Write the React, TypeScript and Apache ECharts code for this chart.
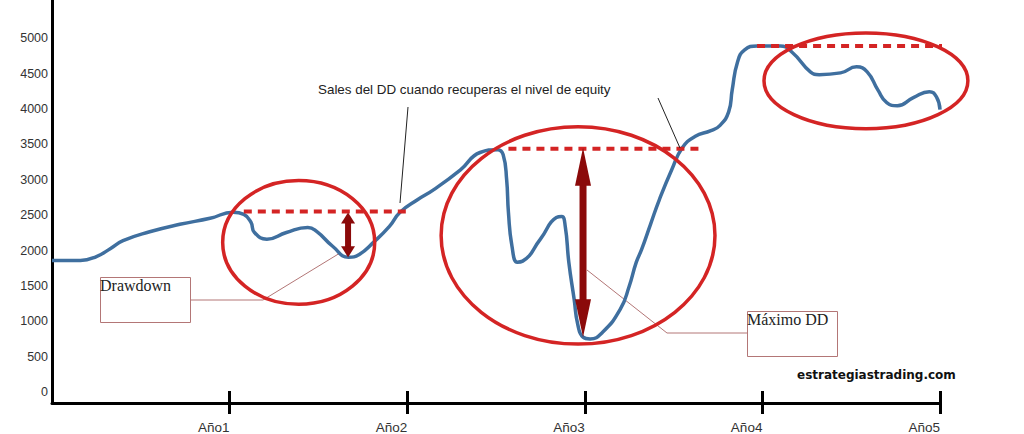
import React, { useEffect, useRef } from "react";
import * as echarts from "echarts";

// Equity curve: year position on the time axis and equity value
const years = [
  0.0, 0.16, 0.25, 0.33, 0.4, 0.55, 0.72, 0.89, 1.02, 1.08, 1.12, 1.14, 1.21, 1.32, 1.44, 1.49,
  1.58, 1.67, 1.73, 1.81, 1.9, 1.96, 2.06, 2.15, 2.3, 2.41, 2.51, 2.54, 2.56, 2.57, 2.59, 2.62,
  2.65, 2.75, 2.84, 2.87, 2.89, 2.91, 2.94, 2.96, 2.99, 3.03, 3.1, 3.2, 3.25, 3.29, 3.32, 3.37,
  3.42, 3.49, 3.55, 3.62, 3.71, 3.76, 3.81, 3.83, 3.86, 3.9, 3.97, 4.1, 4.17, 4.27, 4.32, 4.44,
  4.53, 4.59, 4.65, 4.7, 4.76, 4.85, 4.94, 4.98, 5.0,
];
const equity = [
  1860, 1860, 1915, 2030, 2140, 2265, 2370, 2455, 2540, 2510, 2400, 2255, 2160, 2255, 2325, 2270,
  2060, 1905, 1945, 2115, 2340, 2540, 2720, 2860, 3140, 3385, 3425, 3355, 3000, 2540, 2060, 1835,
  1850, 2160, 2465, 2480, 2340, 1835, 1310, 960, 775, 750, 845, 1170, 1495, 1835, 2015, 2370,
  2720, 3145, 3455, 3610, 3695, 3765, 3960, 4270, 4665, 4835, 4890, 4890, 4795, 4525, 4485, 4510,
  4595, 4525, 4270, 4090, 4045, 4160, 4245, 4170, 3990,
];

// Tick labels
const yTicks = [0, 500, 1000, 1500, 2000, 2500, 3000, 3500, 4000, 4500, 5000];
const xTicks = [1, 2, 3, 4, 5];
const xTickLabels = ["Año1", "Año2", "Año3", "Año4", "Año5"];

// Previous equity highs (dashed levels): [startYear, endYear, level]
const highLevels = [
  [1.08, 2.01, 2551],
  [2.57, 3.65, 3439],
  [3.97, 5.39, 4891],
];

// Drawdown zones (ellipses): [centerYear, centerValue, radiusYears, radiusValue]
const ddZones = [
  [1.389, 2114, 0.428, 874],
  [2.962, 2213, 0.771, 1536],
  [4.583, 4398, 0.574, 677],
];

// Drawdown depth arrows: [year, topValue, bottomValue]
const ddArrows = [
  [1.667, 2537, 1903],
  [2.99, 3453, 775],
];

const arrowStyles = [
  { headH: 11, headW: 14, shaft: 6 },
  { headH: 38, headW: 16, shaft: 7 },
];

const RED = "#d42424";
const DARK_RED = "#8b0a0a";
const BLUE = "#3f6f9f";
const BOX = "#b37676";

export default function App() {
  const ref = useRef<HTMLDivElement>(null);

  useEffect(() => {
    if (!ref.current) return;
    const chart = echarts.init(ref.current, null, { renderer: "svg" });

    const curve = years.map((y, i) => [y, equity[i]]);

    const levelSeries = highLevels.map((l) => ({
      type: "line",
      data: [
        [l[0], l[2]],
        [l[1], l[2]],
      ],
      symbol: "none",
      clip: false,
      silent: true,
      z: 3,
      lineStyle: { color: RED, width: 4, type: [8, 6] },
    }));

    const option: any = {
      animation: false,
      grid: { left: 52, right: 84, top: 0, bottom: 30 },
      xAxis: [
        {
          type: "value",
          min: 0,
          max: 5,
          position: "bottom",
          axisLine: { show: true, onZero: false, lineStyle: { color: "#000", width: 3 } },
          axisTick: {
            show: true,
            customValues: xTicks,
            length: 11,
            lineStyle: { color: "#000", width: 3 },
          },
          axisLabel: {
            customValues: xTicks,
            formatter: (v: number) => xTickLabels[xTicks.indexOf(v)] ?? "",
            align: "right",
            margin: 17,
            color: "#333",
            fontFamily: "Liberation Sans",
            fontSize: 13.5,
          },
          splitLine: { show: false },
        },
        {
          type: "value",
          min: 0,
          max: 5,
          position: "bottom",
          offset: 0,
          axisLine: { show: false, onZero: false },
          axisTick: {
            show: true,
            inside: true,
            customValues: xTicks,
            length: 12,
            lineStyle: { color: "#000", width: 3 },
          },
          axisLabel: { show: false },
          splitLine: { show: false },
        },
      ],
      yAxis: {
        type: "value",
        min: -155,
        max: 5540,
        axisLine: { show: true, onZero: false, lineStyle: { color: "#000", width: 3 } },
        axisTick: { show: false },
        axisLabel: {
          customValues: yTicks,
          formatter: (v: number) => String(v),
          margin: 4,
          color: "#333",
          fontFamily: "Liberation Sans",
          fontSize: 12.5,
        },
        splitLine: { show: false },
      },
      series: [
        {
          type: "line",
          data: curve,
          symbol: "none",
          smooth: 0.5,
          z: 2,
          lineStyle: { color: BLUE, width: 3.5 },
        },
        ...levelSeries,
        {
          type: "custom",
          data: ddZones,
          encode: { x: 0, y: 1 },
          z: 4,
          silent: true,
          renderItem: (_params: any, api: any) => {
            const c = api.coord([api.value(0), api.value(1)]);
            const s = api.size([api.value(2), api.value(3)]);
            return {
              type: "ellipse",
              shape: { cx: c[0], cy: c[1], rx: s[0], ry: s[1] },
              style: { fill: "none", stroke: RED, lineWidth: 3.5 },
            };
          },
        },
        {
          type: "custom",
          data: ddArrows,
          encode: { x: 0, y: [1, 2] },
          z: 5,
          silent: true,
          renderItem: (params: any, api: any) => {
            const st = arrowStyles[params.dataIndex];
            const top = api.coord([api.value(0), api.value(1)]);
            const bot = api.coord([api.value(0), api.value(2)]);
            const x = top[0];
            return {
              type: "group",
              children: [
                {
                  type: "rect",
                  shape: {
                    x: x - st.shaft / 2,
                    y: top[1] + st.headH - 1,
                    width: st.shaft,
                    height: bot[1] - top[1] - 2 * st.headH + 2,
                  },
                  style: { fill: DARK_RED },
                },
                {
                  type: "polygon",
                  shape: {
                    points: [
                      [x, top[1]],
                      [x - st.headW / 2, top[1] + st.headH],
                      [x + st.headW / 2, top[1] + st.headH],
                    ],
                  },
                  style: { fill: DARK_RED },
                },
                {
                  type: "polygon",
                  shape: {
                    points: [
                      [x, bot[1]],
                      [x - st.headW / 2, bot[1] - st.headH],
                      [x + st.headW / 2, bot[1] - st.headH],
                    ],
                  },
                  style: { fill: DARK_RED },
                },
              ],
            };
          },
        },
      ],
      graphic: [
        {
          type: "text",
          left: 318,
          top: 83,
          z: 10,
          style: {
            text: "Sales del DD cuando recuperas el nivel de equity",
            fill: "#222",
            font: "13.4px 'Liberation Sans'",
          },
        },
        {
          type: "line",
          z: 10,
          shape: { x1: 408, y1: 107, x2: 400, y2: 203 },
          style: { stroke: "#222", lineWidth: 1 },
        },
        {
          type: "line",
          z: 10,
          shape: { x1: 658, y1: 98, x2: 680, y2: 148 },
          style: { stroke: "#222", lineWidth: 1 },
        },
        {
          type: "polyline",
          z: 1,
          shape: {
            points: [
              [190, 300],
              [263, 300],
              [340, 253],
            ],
          },
          style: { stroke: BOX, lineWidth: 1, fill: "none" },
        },
        {
          type: "rect",
          z: 10,
          shape: { x: 100.5, y: 277.5, width: 90, height: 45 },
          style: { fill: "#fff", stroke: BOX, lineWidth: 1 },
        },
        {
          type: "text",
          left: 100,
          top: 277,
          z: 11,
          style: { text: "Drawdown", fill: "#222", font: "16px 'Liberation Serif'" },
        },
        {
          type: "polyline",
          z: 1,
          shape: {
            points: [
              [747, 333],
              [667, 333],
              [587, 270],
            ],
          },
          style: { stroke: BOX, lineWidth: 1, fill: "none" },
        },
        {
          type: "rect",
          z: 10,
          shape: { x: 747.5, y: 311.5, width: 90, height: 45 },
          style: { fill: "#fff", stroke: BOX, lineWidth: 1 },
        },
        {
          type: "text",
          left: 747,
          top: 311,
          z: 11,
          style: { text: "Máximo DD", fill: "#222", font: "16px 'Liberation Serif'" },
        },
        {
          type: "text",
          left: 797,
          top: 369,
          z: 11,
          style: {
            text: "estrategiastrading.com",
            fill: "#111",
            font: "bold 12px 'DejaVu Sans'",
          },
        },
      ],
    };

    chart.setOption(option);
    return () => chart.dispose();
  }, []);

  return (
    <div
      ref={ref}
      style={{ position: "fixed", left: 0, top: 0, width: 1024, height: 434, background: "#fff" }}
    />
  );
}
